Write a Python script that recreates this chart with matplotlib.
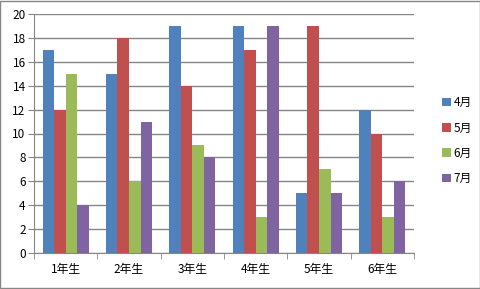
import matplotlib
matplotlib.use("Agg")
import matplotlib.pyplot as plt
import numpy as np
from matplotlib.patches import Rectangle

plt.rcParams['font.family'] = ['Noto Sans CJK JP', 'DejaVu Sans']

categories = ['1年生', '2年生', '3年生', '4年生', '5年生', '6年生']
series_names = ['4月', '5月', '6月', '7月']
apr = [17, 15, 19, 19, 5, 12]
may = [12, 18, 14, 17, 19, 10]
jun = [15, 6, 9, 3, 7, 3]
jul = [4, 11, 8, 19, 5, 6]
colors = ['#4F81BD', '#C0504D', '#9BBB59', '#8064A2']

fig = plt.figure(figsize=(4.81, 2.89), dpi=100)
ax = fig.add_axes([34/481, 36/289, 380/481, 239/289])

x = np.arange(len(categories))
bw = 1/5.5
for i, (vals, c, n) in enumerate(zip([apr, may, jun, jul], colors, series_names)):
    ax.bar(x + (i - 1.5) * bw, vals, bw, color=c, label=n, zorder=3)

ax.set_xlim(-0.5, len(categories) - 0.5)
ax.set_ylim(0, 20)
ax.set_yticks(range(0, 21, 2))
ax.yaxis.grid(True, color='#868686', linewidth=1, zorder=0)
for s in ['top', 'right']:
    ax.spines[s].set_visible(False)
for s in ['left', 'bottom']:
    ax.spines[s].set_color('#868686')
ax.set_xticks(x)
ax.set_xticklabels(categories, fontsize=8.5)
ax.set_xticks(np.arange(-0.5, len(categories)), minor=True)
ax.tick_params(axis='x', which='major', length=0, pad=7)
ax.tick_params(axis='x', which='minor', length=4, color='#868686')
ax.tick_params(axis='y', length=4, color='#868686', labelsize=8.5, pad=2)

leg = ax.legend(loc='center left', bbox_to_anchor=(1.045, 0.47), frameon=False,
                fontsize=8.5, handlelength=0.75, handleheight=0.75, handletextpad=0.25,
                labelspacing=1.05)

fig.patches.append(Rectangle((0.001, 0.002), 0.997, 0.995, transform=fig.transFigure,
                             fill=False, edgecolor='#868686', linewidth=1))
fig.savefig('out.png', dpi=100)
